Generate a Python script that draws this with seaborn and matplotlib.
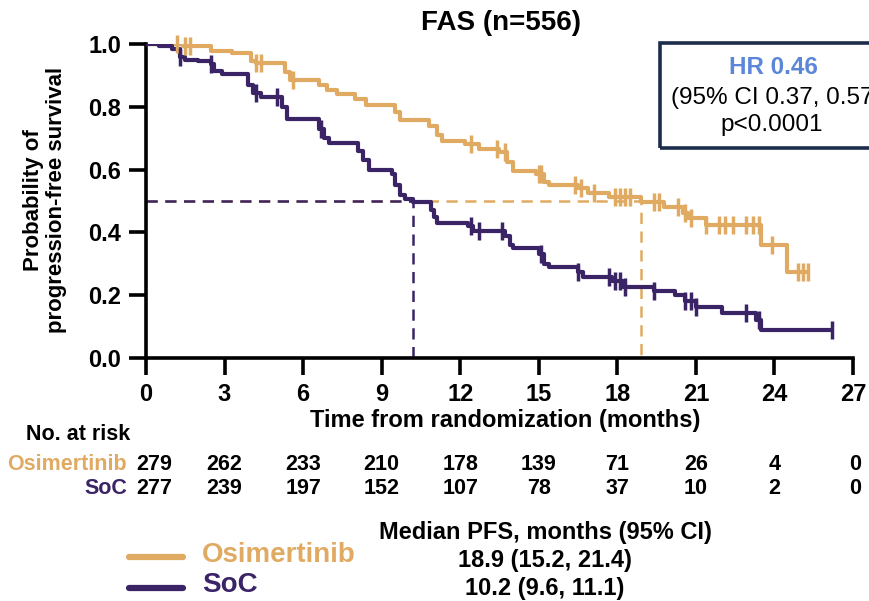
import numpy as np
import pandas as pd
import matplotlib.pyplot as plt
import seaborn as sns
from matplotlib.patches import Rectangle
from matplotlib.lines import Line2D
import matplotlib.transforms as mtransforms

# Datos de las curvas (tiempo en meses, probabilidad de SLP)
osi_time = [0, 1.4, 2.5, 3.3, 4.0, 4.2, 5.3, 5.5, 6.6, 6.9, 7.3, 8.0, 8.4, 9.5, 9.7,
            10.8, 11.1, 11.3, 12.2, 12.7, 13.5, 13.8, 14.0, 14.9, 15.2, 15.4, 16.5,
            16.9, 17.7, 18.9, 19.8, 20.5, 20.7, 21.4, 23.5, 24.5, 25.3]
osi_surv = [1.0, 0.993, 0.978, 0.972, 0.945, 0.94, 0.91, 0.885, 0.87, 0.855, 0.84,
            0.825, 0.805, 0.785, 0.757, 0.74, 0.71, 0.69, 0.68, 0.665, 0.655, 0.625,
            0.595, 0.585, 0.56, 0.55, 0.54, 0.525, 0.513, 0.497, 0.48, 0.462, 0.445,
            0.425, 0.36, 0.275, 0.275]
osi_cens = [1.2, 1.5, 1.7, 4.2, 4.4, 5.6, 12.4, 13.4, 13.7, 15.0, 15.1, 16.4, 16.6,
            17.1, 17.9, 18.1, 18.3, 18.5, 19.4, 19.6, 20.3, 20.6, 20.8, 21.4, 21.9,
            22.1, 22.4, 22.9, 23.2, 23.4, 23.9, 24.9, 25.1, 25.3]

soc_time = [0, 0.5, 1.0, 1.3, 1.5, 2.0, 2.5, 2.6, 2.9, 3.9, 4.1, 4.4, 5.2, 5.4, 6.6,
            6.8, 7.0, 8.1, 8.3, 8.5, 9.4, 9.5, 9.7, 9.9, 10.2, 10.9, 11.0, 11.1, 12.3,
            12.5, 13.7, 13.9, 14.0, 15.0, 15.2, 15.4, 16.5, 16.7, 17.8, 18.2, 19.4,
            20.2, 20.6, 21.0, 22.0, 23.3, 23.5, 26.2]
soc_surv = [1.0, 0.995, 0.985, 0.96, 0.95, 0.945, 0.935, 0.915, 0.905, 0.87, 0.845,
            0.83, 0.80, 0.76, 0.73, 0.70, 0.685, 0.66, 0.63, 0.60, 0.585, 0.55, 0.52,
            0.505, 0.497, 0.47, 0.45, 0.43, 0.42, 0.405, 0.39, 0.36, 0.35, 0.33, 0.30,
            0.29, 0.275, 0.258, 0.245, 0.227, 0.212, 0.2, 0.18, 0.163, 0.143, 0.12,
            0.088, 0.088]
soc_cens = [1.3, 2.5, 4.2, 5.0, 6.7, 12.4, 12.7, 13.6, 15.1, 16.5, 17.7, 17.9, 18.1,
            18.3, 19.4, 20.6, 20.8, 21.0, 22.9, 23.4, 26.2]

median_osi = 18.9
median_soc = 10.2

xticks = [0, 3, 6, 9, 12, 15, 18, 21, 24, 27]
risk_osi = [279, 262, 233, 210, 178, 139, 71, 26, 4, 0]
risk_soc = [277, 239, 197, 152, 107, 78, 37, 10, 2, 0]

c_osi = '#E0AA62'
c_soc = '#3A2466'

sns.set_theme(style="ticks")
plt.rcParams['font.family'] = ['Liberation Sans', 'DejaVu Sans']
plt.rcParams['font.weight'] = 'bold'
plt.rcParams['text.color'] = 'black'
plt.rcParams['xtick.color'] = 'black'
plt.rcParams['ytick.color'] = 'black'
plt.rcParams['axes.labelcolor'] = 'black'

fig = plt.figure(figsize=(8.7, 6.01), dpi=100)
ax = fig.add_axes([0.1678, 0.4043, 0.8126, 0.5225])

df_osi = pd.DataFrame({'time': osi_time, 'surv': osi_surv})
df_soc = pd.DataFrame({'time': soc_time, 'surv': soc_surv})


def surv_at(times, survs, t):
    idx = np.searchsorted(times, t, side='right') - 1
    return np.array(survs)[idx]


# Lineas de la mediana
ax.plot([0, median_osi, median_osi], [0.5, 0.5, 0], color=c_osi, lw=1.8,
        ls=(0, (4.5, 3)), zorder=2)
ax.plot([0, median_soc, median_soc], [0.5, 0.5, 0], color=c_soc, lw=1.8,
        ls=(0, (4.5, 3)), zorder=2)

for df, cens, col in [(df_osi, osi_cens, c_osi), (df_soc, soc_cens, c_soc)]:
    sns.lineplot(data=df, x='time', y='surv', drawstyle='steps-post', estimator=None,
                 color=col, lw=3, ax=ax, zorder=3)
    sns.scatterplot(x=cens, y=surv_at(df['time'].values, df['surv'].values, cens),
                    marker='|', s=150, linewidth=2.5, color=col, ax=ax, zorder=4,
                    clip_on=False)

ax.set_xlim(0, 27)
ax.set_ylim(0, 1.0)
ax.set_xticks(xticks)
ax.set_yticks([0, 0.2, 0.4, 0.6, 0.8, 1.0])
ax.set_yticklabels(['0.0', '0.2', '0.4', '0.6', '0.8', '1.0'])
ax.set_xlabel('')
ax.set_ylabel('')
for s in ['top', 'right']:
    ax.spines[s].set_visible(False)
for s in ['left', 'bottom']:
    ax.spines[s].set_linewidth(2.6)
    ax.spines[s].set_color('black')
ax.tick_params(length=12, width=2.6, pad=6, labelsize=17, color='black',
               labelcolor='black')
for lab in ax.get_xticklabels() + ax.get_yticklabels():
    lab.set_fontweight('bold')

# Textos
fig.text(501 / 870, 1 - 23 / 601, 'FAS (n=556)', ha='center', va='center',
         fontsize=20, fontweight='bold')
fig.text(45 / 870, 1 - 200 / 601, 'Probability of\nprogression-free survival',
         rotation=90, ha='center', va='center', fontsize=16, fontweight='bold',
         linespacing=1.1)
fig.text(505 / 870, 1 - 420 / 601, 'Time from randomization (months)',
         ha='center', va='center', fontsize=17, fontweight='bold')

# Caja HR
fig.patches.append(Rectangle((660 / 870, 1 - 148 / 601), 0.3, 105 / 601,
                             transform=fig.transFigure, fill=False,
                             edgecolor='#1B2D4B', lw=2.6))
fig.text(773 / 870, 1 - 68 / 601, 'HR 0.46', ha='center', va='center',
         fontsize=17.5, fontweight='bold', color='#5B86D9')
fig.text(671 / 870, 1 - 98 / 601, '(95% CI 0.37, 0.57)', ha='left', va='center',
         fontsize=17.5, fontweight='normal')
fig.text(772 / 870, 1 - 125 / 601, 'p<0.0001', ha='center', va='center',
         fontsize=17.5, fontweight='normal')

# Numero en riesgo
fig.text(26 / 870, 1 - 434 / 601, 'No. at risk', ha='left', va='center',
         fontsize=15.5, fontweight='bold')
fig.text(127 / 870, 1 - 465 / 601, 'Osimertinib', ha='right', va='center',
         fontsize=15.5, fontweight='bold', color=c_osi)
fig.text(127 / 870, 1 - 489 / 601, 'SoC', ha='right', va='center',
         fontsize=15.5, fontweight='bold', color=c_soc)
trans = mtransforms.blended_transform_factory(ax.transData, fig.transFigure)
for i, t in enumerate(xticks):
    dx = 0.3 if i == 0 else (0.1 if i == len(xticks) - 1 else 0)
    fig.text(t + dx, 1 - 465 / 601, str(risk_osi[i]), transform=trans, ha='center',
             va='center', fontsize=15.5, fontweight='bold')
    fig.text(t + dx, 1 - 489 / 601, str(risk_soc[i]), transform=trans, ha='center',
             va='center', fontsize=15.5, fontweight='bold')

# Leyenda
fig.lines.append(Line2D([129 / 870, 183 / 870], [1 - 557 / 601] * 2,
                        transform=fig.transFigure, color=c_osi, lw=4.5))
fig.lines.append(Line2D([129 / 870, 183 / 870], [1 - 588 / 601] * 2,
                        transform=fig.transFigure, color=c_soc, lw=4.5))
fig.text(202 / 870, 1 - 555 / 601, 'Osimertinib', ha='left', va='center',
         fontsize=20, fontweight='bold', color=c_osi)
fig.text(202 / 870, 1 - 585 / 601, 'SoC', ha='left', va='center',
         fontsize=20, fontweight='bold', color=c_soc)

fig.text(545 / 870, 1 - 532 / 601, 'Median PFS, months (95% CI)', ha='center',
         va='center', fontsize=17, fontweight='bold')
fig.text(545 / 870, 1 - 560 / 601, '18.9 (15.2, 21.4)', ha='center',
         va='center', fontsize=17, fontweight='bold')
fig.text(545 / 870, 1 - 589 / 601, '10.2 (9.6, 11.1)', ha='center',
         va='center', fontsize=17, fontweight='bold')

fig.savefig('out.png', dpi=100)
